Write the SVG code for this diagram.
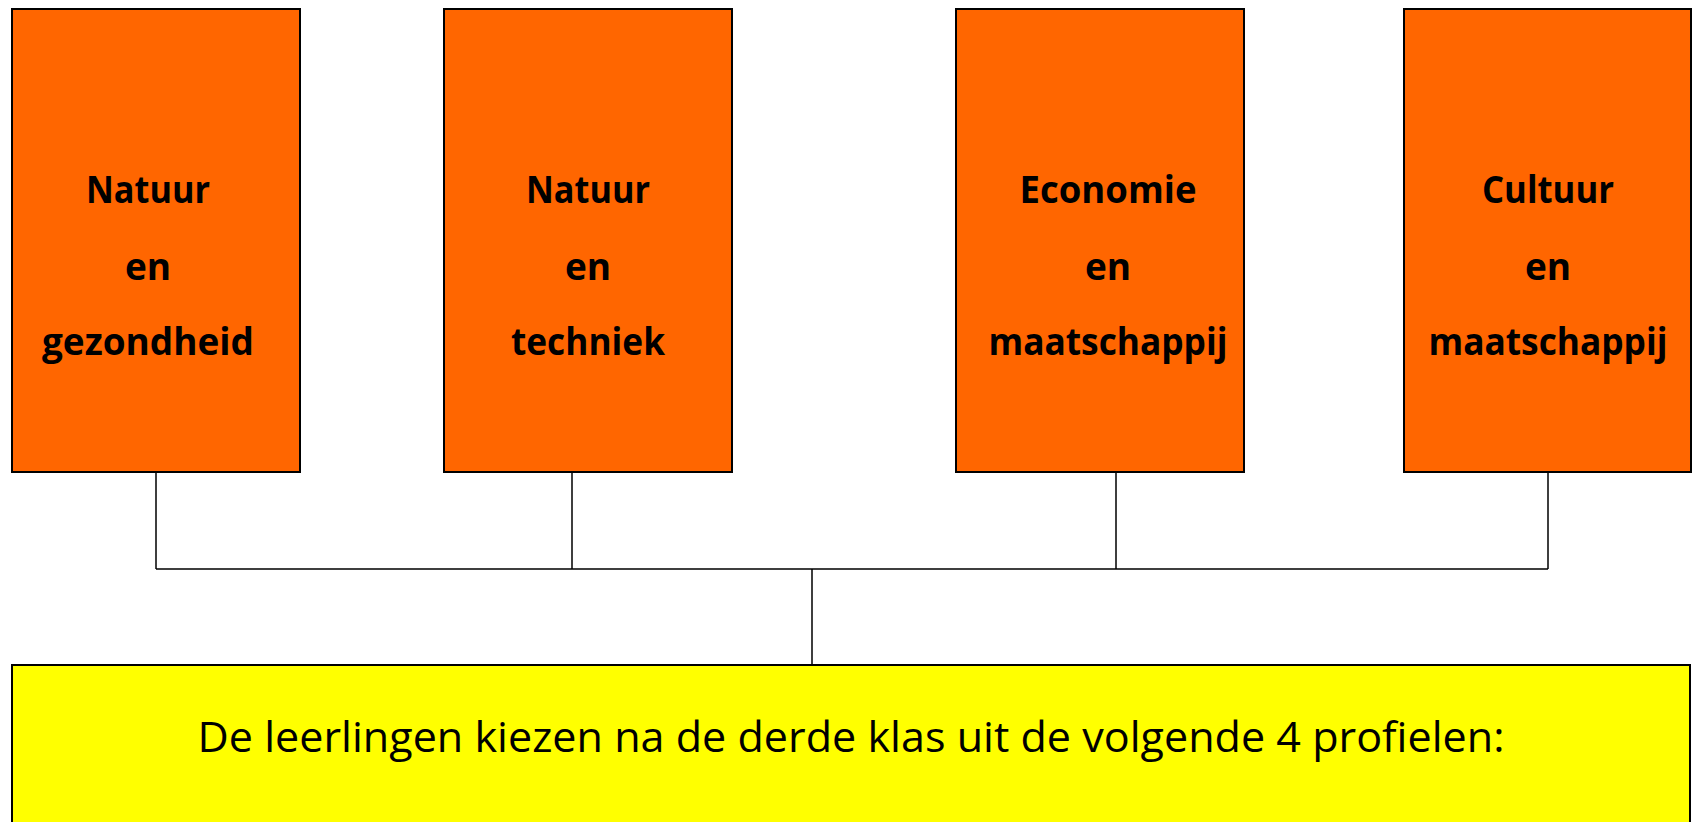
<svg xmlns="http://www.w3.org/2000/svg" width="1692" height="822" viewBox="0 0 1692 822">
<style>
.box{fill:#FF6600;stroke:#000;stroke-width:2}
.base{fill:#FFFF00;stroke:#000;stroke-width:2}
.lbl{font-family:"Open Sans","Liberation Sans",sans-serif;font-weight:700;font-size:37px;fill:#000;text-anchor:middle}
.main{font-family:"Open Sans","Liberation Sans",sans-serif;font-weight:400;font-size:42.5px;fill:#000;text-anchor:middle}
.con{stroke:#000;stroke-width:1.5;fill:none}
</style>
<rect width="1692" height="822" fill="#fff"/>
<g id="connectors">
<path class="con" d="M156 472V569M572 472V569M1116 472V569M1548 472V569M156 569H1548M812 569V665"/>
</g>
<g id="node-natuur-gezondheid">
<rect class="box" x="12" y="9" width="288" height="463"/>
<text class="lbl" x="148" y="203" textLength="124" lengthAdjust="spacingAndGlyphs">Natuur</text>
<text class="lbl" x="148" y="280">en</text>
<text class="lbl" x="148" y="355" textLength="212" lengthAdjust="spacingAndGlyphs">gezondheid</text>
</g>
<g id="node-natuur-techniek">
<rect class="box" x="444" y="9" width="288" height="463"/>
<text class="lbl" x="588" y="203" textLength="124" lengthAdjust="spacingAndGlyphs">Natuur</text>
<text class="lbl" x="588" y="280">en</text>
<text class="lbl" x="588" y="355" textLength="154" lengthAdjust="spacingAndGlyphs">techniek</text>
</g>
<g id="node-economie-maatschappij">
<rect class="box" x="956" y="9" width="288" height="463"/>
<text class="lbl" x="1108" y="203" textLength="177" lengthAdjust="spacingAndGlyphs">Economie</text>
<text class="lbl" x="1108" y="280">en</text>
<text class="lbl" x="1108" y="355" textLength="239" lengthAdjust="spacingAndGlyphs">maatschappij</text>
</g>
<g id="node-cultuur-maatschappij">
<rect class="box" x="1404" y="9" width="287" height="463"/>
<text class="lbl" x="1548" y="203" textLength="132" lengthAdjust="spacingAndGlyphs">Cultuur</text>
<text class="lbl" x="1548" y="280">en</text>
<text class="lbl" x="1548" y="355" textLength="239" lengthAdjust="spacingAndGlyphs">maatschappij</text>
</g>
<g id="node-profielen">
<rect class="base" x="12" y="665" width="1678" height="180"/>
<text class="main" x="851" y="752" textLength="1307" lengthAdjust="spacingAndGlyphs">De leerlingen kiezen na de derde klas uit de volgende 4 profielen:</text>
</g>
</svg>
